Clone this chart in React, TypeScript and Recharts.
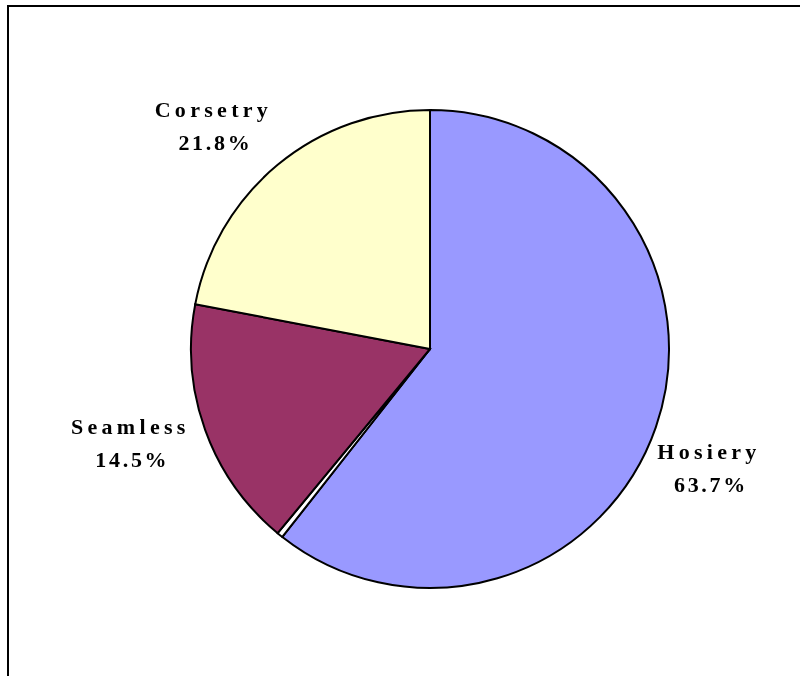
import React from 'react';
import { PieChart, Pie, Cell } from 'recharts';

// Slice names, drawn shares and the printed label texts
const categories = ['Hosiery', '', 'Seamless', 'Corsetry'];
const shares = [60.6, 0.4, 17.0, 22.0];
const percentLabels = ['63.7%', '', '14.5%', '21.8%'];

// styling / layout (kept apart from the data)
const colors = ['#9999FF', '#FFFFFF', '#993366', '#FFFFCC'];
const labelNudge: [number, number][] = [[-16, 17], [0, 0], [-10, -12], [-21, 15]];

const data = categories.map((name, i) => ({ name, value: shares[i], pct: percentLabels[i] }));

const RAD = Math.PI / 180;

const renderLabel = (props: any) => {
  const { cx, cy, midAngle, index } = props;
  if (!categories[index]) return null;
  const r = 310;
  const x = cx + r * Math.cos(-midAngle * RAD) + labelNudge[index][0];
  const y = cy + r * Math.sin(-midAngle * RAD) + labelNudge[index][1];
  const font = { fontFamily: '"Liberation Serif", "Times New Roman", serif', fontWeight: 700, fontSize: 22, fill: '#000' };
  return (
    <g>
      <text x={x + 2} y={y - 16} textAnchor="middle" dominantBaseline="central" letterSpacing={4.3} {...font}>
        {categories[index]}
      </text>
      <text x={x + 4} y={y + 17} textAnchor="middle" dominantBaseline="central" letterSpacing={2.7} {...font}>
        {percentLabels[index]}
      </text>
    </g>
  );
};

export default function App() {
  return (
    <div>
      <div
        style={{
          position: 'fixed',
          left: 7,
          top: 5,
          width: 793,
          height: 671,
          boxSizing: 'border-box',
          borderTop: '2px solid #000',
          borderLeft: '2px solid #000',
          pointerEvents: 'none',
        }}
      />
      <PieChart width={784} height={660} margin={{ top: 0, right: 0, bottom: 0, left: 0 }}>
        <Pie
          data={data}
          dataKey="value"
          nameKey="name"
          cx={422}
          cy={341}
          outerRadius={239}
          startAngle={90}
          endAngle={-270}
          stroke="#000"
          strokeWidth={2}
          label={renderLabel}
          labelLine={false}
          isAnimationActive={false}
        >
          {data.map((d, i) => (
            <Cell key={i} fill={colors[i]} />
          ))}
        </Pie>
      </PieChart>
    </div>
  );
}
